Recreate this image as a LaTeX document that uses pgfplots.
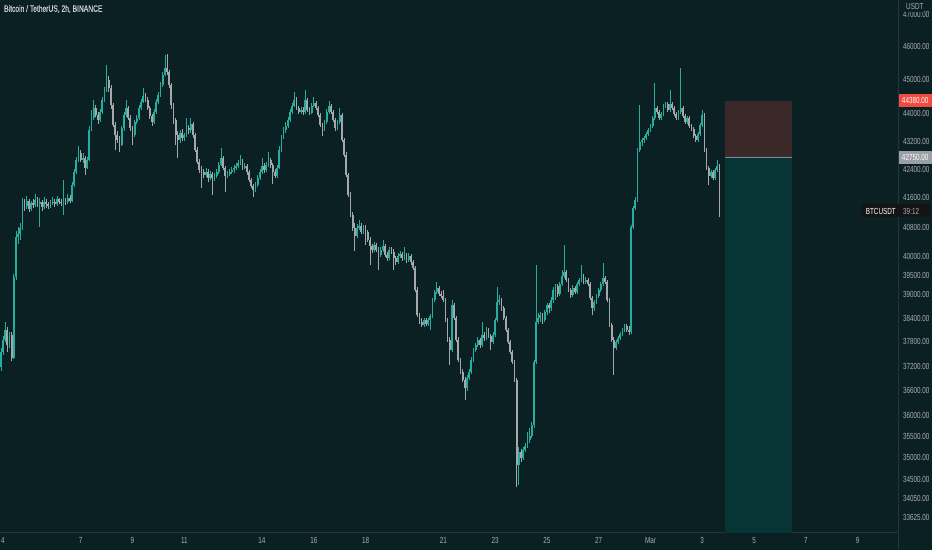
\documentclass[border=0pt]{standalone}
\usepackage{pgfplots}
\pgfplotsset{compat=1.18}
\usepackage{pgfplotstable}
\usepackage{fontspec}
\setmainfont{Liberation Sans}[FakeStretch=0.72]
\newfontfamily\titlefont{Liberation Sans}[FakeStretch=0.72, FakeBold=0.6]

\definecolor{bg}{HTML}{0B2023}
\definecolor{bull}{HTML}{28AD9C}
\definecolor{bear}{HTML}{A4A7AB}
\definecolor{sepline}{HTML}{213639}
\definecolor{lbl}{HTML}{A9AEB5}
\definecolor{lossbox}{HTML}{3A2928}
\definecolor{gainbox}{HTML}{073535}
\definecolor{redtag}{HTML}{F04B40}
\definecolor{greytag}{HTML}{9AA0A6}
\definecolor{entry}{HTML}{7C8B94}

% 2h candles, k = bar index from Feb 4 00:00
\pgfplotstableread{
k o h l c
-1 37180 37650 37080 37560
0 37560 37950 37480 37853
1 37853 38300 37800 38106
2 38106 38180 37550 37727
3 37727 38050 37650 37980
4 37980 38060 37330 37400
5 37400 39560 37380 39473
6 39473 40700 39400 40540
7 40540 40800 40350 40620
8 40620 40900 40450 40780
9 40780 41600 40720 41460
10 41460 41560 41250 41380
11 41380 41650 41300 41520
12 41520 41580 41220 41300
13 41300 41520 41250 41450
14 41450 41560 41330 41400
15 41400 41700 41360 41550
16 41550 41620 41350 41420
17 41420 41600 40810 41480
18 41480 41540 41250 41350
19 41350 41620 41300 41500
20 41500 41560 41330 41420
21 41420 41500 41280 41380
22 41380 41540 41320 41460
23 41460 41620 41400 41500
24 41500 41560 41350 41430
25 41430 41650 41380 41560
26 41560 41600 41420 41500
27 41500 41580 41380 41470
28 41470 42105 41136 41550
29 41550 41600 41400 41480
30 41480 41700 41420 41600
31 41600 41680 41450 41520
32 41520 42050 41480 41965
33 41965 42400 41900 42330
34 42330 42750 42280 42670
35 42670 43070 42600 42870
36 42870 42950 42600 42670
37 42670 42850 42580 42720
38 42720 42780 42245 42440
39 42440 42750 42400 42670
40 42670 43650 42620 43529
41 43529 44112 43480 43877
42 43877 44406 43800 44170
43 44170 44250 43900 43965
44 43965 44050 43700 43819
45 43819 44150 43750 44055
46 44055 44500 44000 44406
47 44406 44800 44350 44703
48 44703 45452 44650 45001
49 45001 45100 44650 44760
50 44760 44850 44150 44259
51 44259 44320 43600 43674
52 43674 43750 42953 43384
53 43384 43500 43150 43240
54 43240 43350 42900 43096
55 43096 43650 43050 43587
56 43587 44050 43500 43965
57 43965 44406 43900 44170
58 44170 44230 43800 43877
59 43877 43950 43500 43587
60 43587 43650 43096 43384
61 43384 43820 43330 43760
62 43760 43950 43700 43877
63 43877 44250 43820 44170
64 44170 44420 44100 44347
65 44347 44750 44300 44525
66 44525 44600 44350 44406
67 44406 44480 44100 44170
68 44170 44230 43850 43936
69 43936 44000 43650 43760
70 43760 44120 43700 44055
71 44055 44420 44000 44347
72 44347 44640 44280 44554
73 44554 44950 44500 44852
74 44852 45250 44800 45151
75 45151 45756 45100 45360
76 45360 45780 45150 45240
77 45240 45300 44750 44852
78 44852 44920 44150 44259
79 44259 44320 43700 43819
80 43819 43880 43096 43384
81 43384 43500 42730 43240
82 43240 43520 43150 43440
83 43440 43550 43200 43298
84 43298 43450 43200 43384
85 43384 43877 43330 43587
86 43587 43680 43400 43529
87 43529 43877 43450 43703
88 43703 43760 43300 43384
89 43384 43450 42900 42953
90 42953 43020 42550 42612
91 42612 42700 42300 42386
92 42386 42500 41880 42330
93 42330 42420 42150 42245
94 42245 42450 42180 42330
95 42330 42400 42050 42160
96 42160 42350 42100 42273
97 42273 42330 41690 42160
98 42160 42300 42080 42217
99 42217 42420 42150 42330
100 42330 42600 42280 42527
101 42527 43010 42480 42725
102 42725 42780 42380 42443
103 42443 42500 41770 42217
104 42217 42350 42150 42273
105 42273 42420 42200 42330
106 42330 42460 42280 42386
107 42386 42520 42300 42443
108 42443 42580 42380 42500
109 42500 42650 42440 42584
110 42584 42811 42520 42612
111 42612 42680 42380 42443
112 42443 42580 42400 42500
113 42500 42550 42250 42330
114 42330 42380 42050 42105
115 42105 42150 41880 41937
116 41937 42000 41632 41826
117 41826 42050 41750 41965
118 41965 42250 41900 42160
119 42160 42400 42100 42330
120 42330 42725 42280 42500
121 42500 42580 42300 42386
122 42386 42600 42320 42527
123 42527 42900 42470 42669
124 42669 42720 42450 42527
125 42527 42580 41990 42330
126 42330 42400 42150 42217
127 42217 42520 42160 42443
128 42443 43050 42400 42953
129 42953 43380 42900 43298
130 43298 43600 43250 43529
131 43529 43750 43450 43645
132 43645 43900 43580 43819
133 43819 44150 43760 44055
134 44055 44300 44000 44229
135 44229 44640 44180 44406
136 44406 44480 44100 44170
137 44170 44230 43980 44055
138 44055 44200 43980 44112
139 44112 44180 43950 44055
140 44055 44700 44000 44406
141 44406 44450 44050 44112
142 44112 44180 43950 44025
143 44025 44300 43980 44229
144 44229 44500 44180 44318
145 44318 44380 44100 44170
146 44170 44230 43900 43965
147 43965 44020 43600 43674
148 43674 43720 43340 43529
149 43529 43820 43480 43760
150 43760 44120 43700 44055
151 44055 44380 44000 44229
152 44229 44280 43980 44055
153 44055 44100 43760 43819
154 43819 43880 43500 43587
155 43587 43820 43520 43760
156 43760 44170 43700 43965
157 43965 44020 43180 43240
158 43240 43300 42750 42811
159 42811 42880 42180 42245
160 42245 42300 41620 41687
161 41687 41750 41080 41136
162 41136 41200 40700 40780
163 40780 40900 40150 40565
164 40565 40880 40500 40780
165 40780 40980 40720 40835
166 40835 40900 40600 40673
167 40673 40850 40620 40780
168 40780 40850 40323 40673
169 40673 40720 40400 40457
170 40457 40520 39790 40296
171 40296 40350 40100 40189
172 40189 40400 40130 40323
173 40323 40380 40120 40189
174 40189 40250 39660 40055
175 40055 40250 40000 40189
176 40189 40457 40130 40296
177 40296 40350 39990 40055
178 40055 40120 39900 39975
179 39975 40250 39920 40189
180 40189 40260 40080 40135
181 40135 40200 39658 39975
182 39975 40020 39800 39870
183 39870 40100 39820 40030
184 40030 40150 39980 40080
185 40080 40130 39900 39975
186 39975 40260 39920 40055
187 40055 40100 39850 39922
188 39922 40100 39870 40030
189 40030 40080 39800 39870
190 39870 39930 39650 39710
191 39710 39760 39080 39134
192 39134 39200 38430 38488
193 38488 38550 38250 38310
194 38310 38420 38180 38233
195 38233 38420 38180 38360
196 38360 38410 38200 38258
197 38258 38420 38200 38360
198 38360 38520 38106 38462
199 38462 38920 38400 38874
200 38874 39130 38820 39082
201 39082 39342 39020 39186
202 39186 39230 38980 39030
203 39030 39100 38920 38978
204 38978 39134 38820 38874
205 38874 38920 38300 38360
206 38360 38420 37800 37853
207 37853 37920 37229 37602
208 37602 38874 37550 38745
209 38745 38800 38350 38411
210 38411 38460 37800 37853
211 37853 37920 37300 37353
212 37353 37400 37000 37056
213 37056 37120 36800 36859
214 36859 36920 36372 36664
215 36664 36980 36600 36908
216 36908 37120 36850 37056
217 37056 37420 37000 37353
218 37353 37660 37300 37602
219 37602 37780 37550 37727
220 37727 37920 37680 37853
221 37853 37900 37650 37727
222 37727 38300 37680 37979
223 37979 38050 37820 37903
224 37903 38180 37850 38106
225 38106 38160 37900 37954
226 37954 38000 37602 37803
227 37803 38050 37750 37979
228 37979 38420 37920 38360
229 38360 39212 38300 38822
230 38822 39000 38750 38874
231 38874 38920 38600 38668
232 38668 38720 38350 38411
233 38411 38460 38050 38106
234 38106 38160 37750 37803
235 37803 37850 37500 37552
236 37552 37600 37250 37303
237 37303 37350 36800 36859
238 36859 36900 34330 34833
239 34833 35250 34372 35135
240 35135 35200 34900 34995
241 34995 35250 34950 35182
242 35182 35350 35120 35276
243 35276 35600 35220 35417
244 35417 35700 35350 35512
245 35512 35850 35450 35772
246 35772 37350 35700 37303
247 37303 39790 37250 38310
248 38310 38550 38250 38411
249 38411 38560 38300 38488
250 38488 38540 38250 38360
251 38360 38620 38300 38565
252 38565 38800 38500 38745
253 38745 38800 38550 38668
254 38668 38950 38600 38874
255 38874 39200 38800 39134
256 39134 39300 38874 39238
257 39238 39300 38950 39030
258 39030 39350 38980 39290
259 39290 39658 39230 39500
260 39500 40323 39450 39605
261 39605 39660 39330 39395
262 39395 39450 39080 39134
263 39134 39180 38920 39004
264 39004 39250 38950 39186
265 39186 39240 39020 39082
266 39082 39350 39030 39290
267 39290 39450 39230 39395
268 39395 39790 39340 39500
269 39500 39560 39280 39342
270 39342 39460 39290 39395
271 39395 39450 39230 39290
272 39290 39340 38870 38926
273 38926 38980 38488 38668
274 38668 38880 38600 38822
275 38822 39030 38770 38978
276 38978 39190 38920 39134
277 39134 39340 39080 39290
278 39290 39843 39230 39447
279 39447 39500 39280 39342
280 39342 39400 38820 38874
281 38874 38920 38180 38233
282 38233 38290 37800 37853
283 37853 37920 36982 37652
284 37652 37860 37600 37803
285 37803 37960 37740 37903
286 37903 38060 37850 38005
287 38005 38160 37950 38106
288 38106 38260 38050 38207
289 38207 38260 38050 38106
290 38106 38200 37980 38055
291 38055 40860 38000 40810
292 40810 41380 40750 41328
293 41328 41620 41270 41548
294 41548 43010 41480 42953
295 42953 44259 42900 43183
296 43183 43300 43050 43240
297 43240 43360 43150 43298
298 43298 43470 43240 43413
299 43413 43580 43350 43529
300 43529 43700 43470 43645
301 43645 43930 43590 43877
302 43877 44910 43820 44170
303 44170 44230 43990 44055
304 44055 44110 43820 43877
305 43877 44060 43820 43995
306 43995 44290 43940 44229
307 44229 44350 44170 44288
308 44288 44340 44050 44112
309 44112 44703 44060 44288
310 44288 44340 44110 44170
311 44170 44230 43940 43995
312 43995 44050 43820 43877
313 43877 44110 43820 44055
314 44055 45360 44000 44170
315 44170 44230 43880 43936
316 43936 43990 43700 43760
317 43760 43930 43700 43877
318 43877 43930 43590 43645
319 43645 43700 43500 43558
320 43558 43620 43300 43355
321 43355 43410 43180 43240
322 43240 43470 43180 43413
323 43413 43730 43350 43674
324 43674 44112 43620 43965
325 43965 44020 42900 42953
326 42953 43010 42380 42443
327 42443 42500 41965 42217
328 42217 42390 42150 42330
329 42330 42390 42100 42160
330 42160 42440 42100 42386
331 42386 42669 42330 42500
332 42500 42560 41080 41245
}\btc

\pgfplotsset{
  candle/.style n args={3}{
    draw=none, mark=none,
    restrict expr to domain={\thisrow{c}-\thisrow{o}}{#2},
    error bars/.cd, y dir=plus, y explicit, error mark=none,
    error bar style={draw=#1, line width=#3}},
}

\begin{document}
\begin{tikzpicture}
\fill[bg] (0,-17pt) rectangle (932pt,533pt);
\useasboundingbox (0,-17pt) rectangle (932pt,533pt);
\begin{axis}[
  at={(0,0)}, anchor=south west,
  scale only axis, width=898pt, height=533pt,
  xmin=-1.39, xmax=414.7,
  ymode=log, ymin=33291, ymax=47461,
  axis x line*=bottom, axis y line*=right,
  axis line style={-, draw=sepline, line width=0.8pt},
  major tick length=0pt, minor tick num=0,
  xtick={0,36,60,84,120,144,168,204,228,252,276,300,324,348,372,396},
  xticklabels={4,7,9,11,14,16,18,21,23,25,27,Mar,3,5,7,9},
  ytick={47000,46000,45000,44000,43200,42400,41600,40800,40000,39500,39000,38400,37800,37200,36600,36000,35500,35000,34500,34050,33625},
  yticklabels={47000.00,46000.00,45000.00,44000.00,43200.00,42400.00,41600.00,40800.00,40000.00,39500.00,39000.00,38400.00,37800.00,37200.00,36600.00,36000.00,35500.00,35000.00,34500.00,34050.00,33625.00},
  yticklabel style={font=\fontsize{8.8}{9}\selectfont, text=lbl, xshift=1.5pt},
  xticklabel style={font=\fontsize{8.8}{9}\selectfont, text=lbl, yshift=-1pt},
]
% position box
\addplot[fill=lossbox, draw=none] coordinates {(334.6,42750) (365.6,42750) (365.6,44380) (334.6,44380)};
\addplot[fill=gainbox, draw=none] coordinates {(334.6,33000) (365.6,33000) (365.6,42750) (334.6,42750)};
\addplot[entry, line width=0.7pt] coordinates {(334.6,42750) (365.6,42750)};

% wicks
\addplot[candle={bull}{0:99999}{0.65pt}] table[x=k, y=l, y error expr=\thisrow{h}-\thisrow{l}] {\btc};
\addplot[candle={bear}{-99999:-0.001}{0.65pt}] table[x=k, y=l, y error expr=\thisrow{h}-\thisrow{l}] {\btc};
% bodies
\addplot[candle={bull}{0:99999}{1.8pt}] table[x=k, y=o, y error expr=\thisrow{c}-\thisrow{o}] {\btc};
\addplot[candle={bear}{-99999:-0.001}{1.8pt}] table[x=k, y=c, y error expr=\thisrow{o}-\thisrow{c}] {\btc};

\coordinate (tagR) at (axis cs:414.7,44380);
\coordinate (tagG) at (axis cs:414.7,42750);
\coordinate (tagC) at (axis cs:414.7,41245);
\coordinate (tagU) at (axis cs:414.7,47461);
\end{axis}
\draw[sepline, line width=0.8pt] (898pt,-17pt) -- (898pt,533pt);
\node[anchor=west, font=\titlefont\fontsize{9.3}{9.3}\selectfont, text=lbl!60!white, inner sep=0pt] at (4pt,524pt) {Bitcoin / TetherUS, 2h, BINANCE};
\node[anchor=west, fill=redtag, text=white, font=\fontsize{8.8}{9}\selectfont, inner xsep=1.5pt, minimum height=11pt, minimum width=33pt] at ([xshift=0.5pt]tagR) {44380.00};
\node[anchor=west, fill=greytag, text=white, font=\fontsize{8.8}{9}\selectfont, inner xsep=1.5pt, minimum height=11pt, minimum width=33pt] at ([xshift=0.5pt]tagG) {42750.00};
\fill[black!92] ([xshift=-36pt,yshift=-6.5pt]tagC) rectangle ([xshift=32pt,yshift=6.5pt]tagC);
\node[anchor=east, text=white, font=\fontsize{8.8}{9}\selectfont, inner sep=0pt] at ([xshift=-2pt]tagC) {BTCUSDT};
\node[anchor=west, text=lbl, font=\fontsize{8.8}{9}\selectfont, inner sep=0pt] at ([xshift=5pt]tagC) {39:12};
\node[anchor=north west, fill=bg, text=lbl, font=\fontsize{8.8}{9}\selectfont, inner xsep=1pt, inner ysep=1.8pt] at ([xshift=7pt,yshift=-1.5pt]tagU) {USDT};
\end{tikzpicture}
\end{document}
